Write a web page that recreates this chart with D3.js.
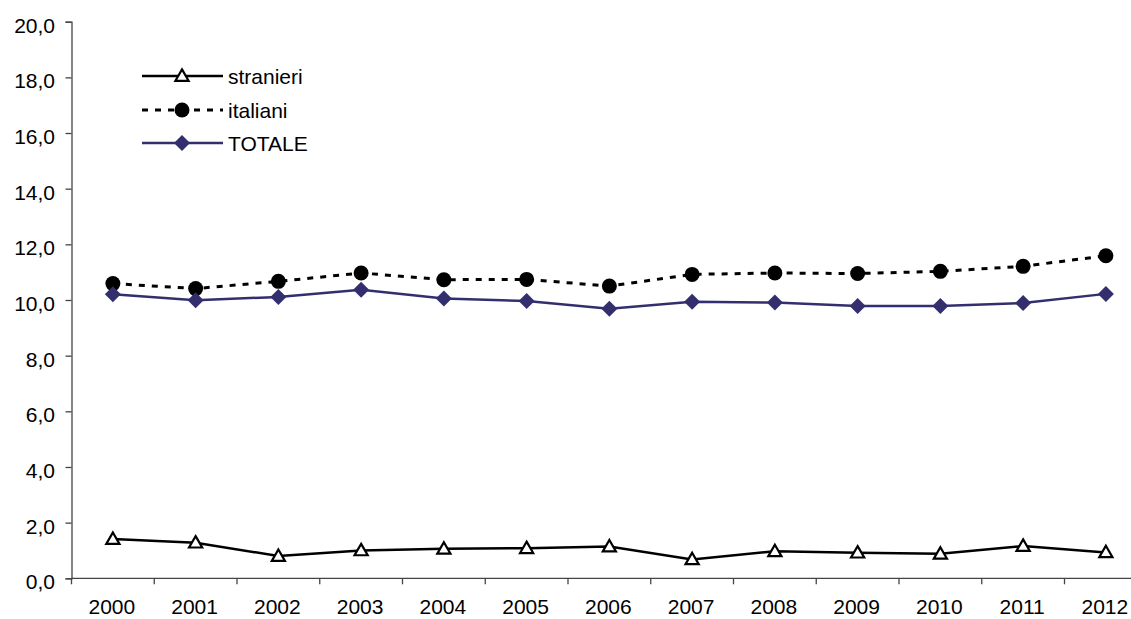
<!DOCTYPE html>
<html>
<head>
<meta charset="utf-8">
<script src="https://cdn.jsdelivr.net/npm/d3@7"></script>
<style>
	body { margin: 0; background: #fff; }
	text { font-family: "Liberation Sans", Arial, sans-serif; fill: #000; }
</style>
</head>
<body>
<script>
// data
var years = ['2000', '2001', '2002', '2003', '2004', '2005', '2006', '2007', '2008', '2009', '2010', '2011', '2012'];
var stranieri = [1.41, 1.28, 0.80, 1.00, 1.06, 1.08, 1.14, 0.68, 0.97, 0.92, 0.88, 1.16, 0.93];
var italiani = [10.59, 10.41, 10.67, 10.97, 10.73, 10.74, 10.50, 10.92, 10.97, 10.95, 11.03, 11.21, 11.59];
var totale = [10.21, 9.99, 10.11, 10.37, 10.05, 9.96, 9.69, 9.94, 9.91, 9.78, 9.78, 9.89, 10.22];
var yTicks = [0, 2, 4, 6, 8, 10, 12, 14, 16, 18, 20];

var width = 1131,
	height = 619,
	margin = {top: 21.7, left: 71.5};

var svg = d3.select('body').append('svg')
	.attr('width', width)
	.attr('height', height);

// 13 bands of ~82.75px, the last one runs off the right edge
var xScale = d3.scaleBand().domain(years).range([margin.left, margin.left + 13 * 82.75]).padding(0),
	yScale = d3.scaleLinear().domain([0, 20]).range([578.3, margin.top]);

var fmt = function(d) { return d3.format('.1f')(d).replace('.', ','); };

// y axis
var yAxis = svg.append('g')
	.attr('transform', 'translate(' + margin.left + ',0)')
	.call(d3.axisLeft(yScale).tickValues(yTicks).tickSize(6).tickPadding(10.5).tickFormat(fmt));
yAxis.select('.domain').attr('stroke', '#444').attr('stroke-width', 1.3);
yAxis.selectAll('.tick line').attr('stroke', '#444').attr('stroke-width', 1.3);
yAxis.selectAll('text').style('font-size', '21px').attr('dy', '0.5em');

// x axis, ticks on band edges
var xAxis = svg.append('g')
	.attr('transform', 'translate(0,' + yScale(0) + ')');
xAxis.append('line')
	.attr('x1', margin.left).attr('x2', width)
	.attr('stroke', '#444').attr('stroke-width', 1.3);
xAxis.selectAll('.xtick')
	.data(years)
	.enter().append('line')
	.attr('class', 'xtick')
	.attr('x1', function(d) { return xScale(d); })
	.attr('x2', function(d) { return xScale(d); })
	.attr('y2', 6)
	.attr('stroke', '#444').attr('stroke-width', 1.3);
xAxis.selectAll('.xlabel')
	.data(years)
	.enter().append('text')
	.attr('class', 'xlabel')
	.attr('x', function(d) { return xScale(d) + xScale.bandwidth() / 2 - 1; })
	.attr('y', 35.5)
	.attr('text-anchor', 'middle')
	.style('font-size', '21px')
	.text(function(d) { return d; });

var cx = function(d, i) { return xScale(years[i]) + xScale.bandwidth() / 2; };
var line = d3.line()
	.x(function(d, i) { return cx(d, i); })
	.y(function(d) { return yScale(d); });

var triangle = d3.symbol().type(d3.symbolTriangle).size(75);
var diamond = 'M0,-8L8,0L0,8L-8,0Z';

// italiani
svg.append('path').datum(italiani)
	.attr('d', line).attr('fill', 'none')
	.attr('stroke', '#000').attr('stroke-width', 3).attr('stroke-dasharray', '6,7');
svg.selectAll('.dot-ita')
	.data(italiani)
	.enter().append('circle')
	.attr('class', 'dot-ita')
	.attr('cx', cx)
	.attr('cy', function(d) { return yScale(d); })
	.attr('r', 7.5)
	.attr('fill', '#000');

// totale
svg.append('path').datum(totale)
	.attr('d', line).attr('fill', 'none')
	.attr('stroke', '#332f6e').attr('stroke-width', 2.5);
svg.selectAll('.dot-tot')
	.data(totale)
	.enter().append('path')
	.attr('class', 'dot-tot')
	.attr('d', diamond)
	.attr('transform', function(d, i) { return 'translate(' + cx(d, i) + ',' + yScale(d) + ')'; })
	.attr('fill', '#332f6e');

// stranieri
svg.append('path').datum(stranieri)
	.attr('d', line).attr('fill', 'none')
	.attr('stroke', '#000').attr('stroke-width', 2.5);
svg.selectAll('.dot-str')
	.data(stranieri)
	.enter().append('path')
	.attr('class', 'dot-str')
	.attr('d', triangle)
	.attr('transform', function(d, i) { return 'translate(' + cx(d, i) + ',' + (yScale(d) + 1) + ')'; })
	.attr('fill', '#fff').attr('stroke', '#000').attr('stroke-width', 2.2);

// legend
var legend = svg.append('g').attr('transform', 'translate(142,0)');
var rows = [
	{name: 'stranieri', y: 76},
	{name: 'italiani', y: 110},
	{name: 'TOTALE', y: 143}
];
rows.forEach(function(r) {
	var l = legend.append('line')
		.attr('x1', 0).attr('x2', 81)
		.attr('y1', r.y).attr('y2', r.y);
	if (r.name === 'stranieri') {
		l.attr('stroke', '#000').attr('stroke-width', 2.5);
		legend.append('path').attr('d', triangle)
			.attr('transform', 'translate(40,' + (r.y + 1) + ')')
			.attr('fill', '#fff').attr('stroke', '#000').attr('stroke-width', 2.2);
	} else if (r.name === 'italiani') {
		l.attr('stroke', '#000').attr('stroke-width', 3).attr('stroke-dasharray', '6,7');
		legend.append('circle').attr('cx', 40).attr('cy', r.y).attr('r', 7.5).attr('fill', '#000');
	} else {
		l.attr('stroke', '#332f6e').attr('stroke-width', 2.5);
		legend.append('path').attr('d', diamond)
			.attr('transform', 'translate(40,' + r.y + ')')
			.attr('fill', '#332f6e');
	}
	legend.append('text')
		.attr('x', 86).attr('y', r.y + 8)
		.style('font-size', '21px')
		.text(r.name);
});
</script>
</body>
</html>
